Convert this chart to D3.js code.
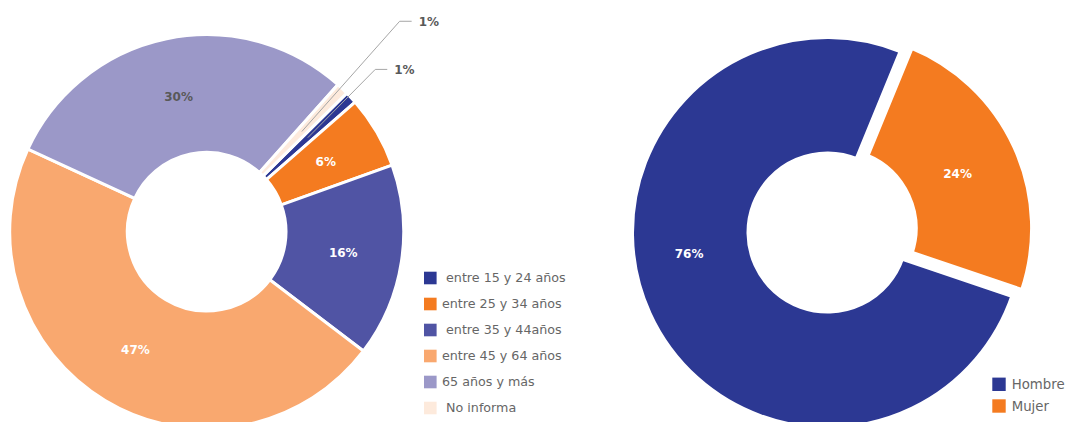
<!DOCTYPE html>
<html>
<head>
<meta charset="utf-8">
<script src="https://cdn.jsdelivr.net/npm/d3@7"></script>
<style>
  html, body { margin: 0; padding: 0; background: #ffffff; }
  svg { display: block; font-family: "DejaVu Sans", "Noto Sans", sans-serif; }
  .legend text { white-space: pre; }
</style>
</head>
<body>
<svg id="chart" width="1068" height="422"></svg>
<script>
// Age groups (percent of total)
const ageCategories = [" entre 15 y 24 años", "entre 25 y 34 años", " entre 35 y 44años", "entre 45 y 64 años", "65 años y más", " No informa"];
const ageShares = [1, 6, 16, 47, 30, 1];
const ageColors = ["#2c3893", "#f47b20", "#5054a4", "#f9a86f", "#9b98c8", "#fdeadc"];
const ageLabelColors = ["#595959", "#ffffff", "#ffffff", "#ffffff", "#595959", "#595959"];

// Sex (percent of total)
const sexCategories = ["Hombre", "Mujer"];
const sexShares = [76, 24];
const sexColors = ["#2c3893", "#f47b20"];

const svg = d3.select("#chart");
const deg = Math.PI / 180;

function polar(r, a) { return [r * Math.sin(a), -r * Math.cos(a)]; }

// ---------- Left doughnut: age groups ----------
const ageData = ageCategories.map((c, i) => ({ name: c, value: ageShares[i], color: ageColors[i], labelColor: ageLabelColors[i] }));
const ageStart = 45.3 * deg;
const agePie = d3.pie().sort(null).value(d => d.value).startAngle(ageStart).endAngle(ageStart + 2 * Math.PI);
const ageArc = d3.arc().innerRadius(79.3).outerRadius(197);
const ageArcs = agePie(ageData);

const gAge = svg.append("g").attr("transform", "translate(206.7,231.7)");
gAge.selectAll("path.slice")
  .data(ageArcs)
  .join("path")
  .attr("class", "slice")
  .attr("d", ageArc)
  .attr("fill", d => d.data.color)
  .attr("stroke", "#ffffff")
  .attr("stroke-width", 3)
  .attr("stroke-linejoin", "miter");

// labels inside the ring for the wider slices
gAge.selectAll("text.inner")
  .data(ageArcs.filter(d => d.data.value >= 3))
  .join("text")
  .attr("class", "inner")
  .attr("transform", d => `translate(${ageArc.centroid(d)})`)
  .attr("text-anchor", "middle")
  .attr("dy", "0.36em")
  .attr("font-size", 12)
  .attr("font-weight", "bold")
  .attr("fill", d => d.data.labelColor)
  .text(d => `${d.data.value}%`);

// thin slices get a leader line and an outside label, stacked outwards
const thin = ageArcs.filter(d => d.data.value < 3).sort((a, b) => a.startAngle - b.startAngle);
thin.forEach((d, k) => {
  const mid = (d.startAngle + d.endAngle) / 2;
  const p0 = ageArc.centroid(d);
  const p1 = polar(234 + 51.5 * k, mid - 1 * deg);
  const p2 = [p1[0] + 12, p1[1]];
  gAge.append("polyline")
    .attr("points", [p0, p1, p2].map(p => p.join(",")).join(" "))
    .attr("fill", "none")
    .attr("stroke", "#a6a6a6")
    .attr("stroke-width", 1);
  gAge.append("text")
    .attr("x", p2[0] + 7)
    .attr("y", p2[1])
    .attr("dy", "0.36em")
    .attr("font-size", 12)
    .attr("font-weight", "bold")
    .attr("fill", d.data.labelColor)
    .text(`${d.data.value}%`);
});

// legend
const ageLegendY = d3.scalePoint().domain(ageCategories).range([278, 408]);
const ageLegend = svg.append("g").attr("class", "legend");
const ageRows = ageLegend.selectAll("g")
  .data(ageData)
  .join("g")
  .attr("transform", d => `translate(424,${ageLegendY(d.name)})`);
ageRows.append("rect")
  .attr("x", 0).attr("y", -6.3)
  .attr("width", 12.6).attr("height", 12.6)
  .attr("fill", d => d.color);
ageRows.append("text")
  .attr("x", 18)
  .attr("dy", "0.35em")
  .attr("font-size", 12.7)
  .attr("fill", "#666666")
  .attr("xml:space", "preserve")
  .text(d => d.name);

// ---------- Right doughnut: sex ----------
const sexData = sexCategories.map((c, i) => ({ name: c, value: sexShares[i], color: sexColors[i] }));
const sexStart = 108.7 * deg;
const sexPie = d3.pie().sort(null).value(d => d.value).startAngle(sexStart).endAngle(sexStart + 2 * Math.PI);
const sexArc = d3.arc().innerRadius(78).outerRadius(196.5);
const sexArcs = sexPie(sexData);
const explode = 10; // the smaller slice is pulled out of the ring

const gSex = svg.append("g").attr("transform", "translate(827.5,232.5)");
const sexSlices = gSex.selectAll("g.slice")
  .data(sexArcs)
  .join("g")
  .attr("class", "slice")
  .attr("transform", d => {
    if (d.data.value >= 50) return null;
    const off = polar(explode, (d.startAngle + d.endAngle) / 2);
    return `translate(${off})`;
  });
sexSlices.append("path")
  .attr("d", sexArc)
  .attr("fill", d => d.data.color)
  .attr("stroke", "#ffffff")
  .attr("stroke-width", 6);
// the wide slice keeps its label closer to the horizontal
sexSlices.append("text")
  .attr("transform", d => {
    const mid = (d.startAngle + d.endAngle) / 2;
    const a = d.data.value >= 50 ? mid + 16 * deg : mid;
    const r = d.data.value >= 50 ? 140 : 133;
    return `translate(${polar(r, a)})`;
  })
  .attr("text-anchor", "middle")
  .attr("dy", "0.36em")
  .attr("font-size", 12)
  .attr("font-weight", "bold")
  .attr("fill", "#ffffff")
  .text(d => `${d.data.value}%`);

// legend
const sexLegendY = d3.scalePoint().domain(sexCategories).range([384.3, 406]);
const sexLegend = svg.append("g").attr("class", "legend");
const sexRows = sexLegend.selectAll("g")
  .data(sexData)
  .join("g")
  .attr("transform", d => `translate(992.3,${sexLegendY(d.name)})`);
sexRows.append("rect")
  .attr("x", 0).attr("y", -6.7)
  .attr("width", 13.4).attr("height", 13.4)
  .attr("fill", d => d.color);
sexRows.append("text")
  .attr("x", 19.4)
  .attr("dy", "0.35em")
  .attr("font-size", 13.3)
  .attr("fill", "#666666")
  .text(d => d.name);
</script>
</body>
</html>
